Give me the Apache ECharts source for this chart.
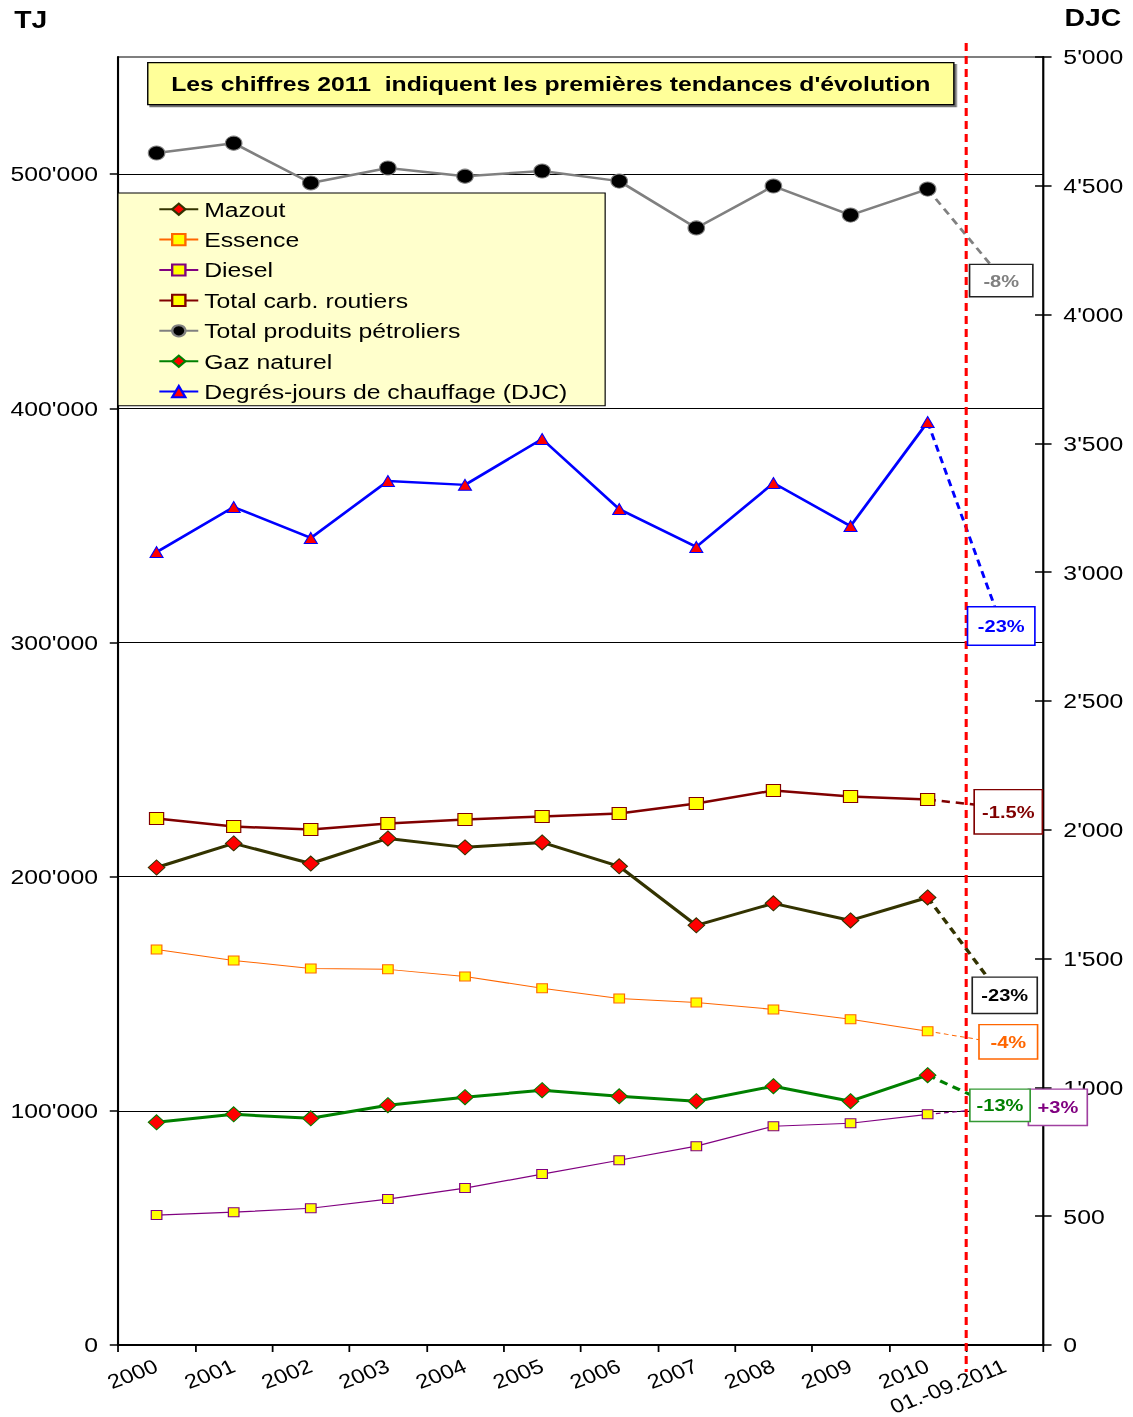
<!DOCTYPE html>
<html>
<head>
<meta charset="utf-8">
<title>Consommation d'énergie et degrés-jours</title>
<script src="https://cdn.jsdelivr.net/npm/echarts@6/dist/echarts.min.js"></script>
<style>
  html, body { margin: 0; padding: 0; background: #fff; overflow: hidden; }
  /* the drawing is laid out 960px wide and widened to the full page width */
  #chart { width: 960px; height: 1417px; transform: scaleX(1.1802); transform-origin: 0 0; }
</style>
</head>
<body>
<div id="chart"></div>
<script>
// ---- data -----------------------------------------------------------------
const years = ['2000', '2001', '2002', '2003', '2004', '2005', '2006', '2007', '2008', '2009', '2010', '01.-09.2011'];

// yearly values 2000-2010, TJ
const mazout   = [203900, 214200, 205600, 216300, 212500, 214600, 204400, 179200, 188600, 181300, 191100];
const essence  = [168900, 164200, 160800, 160400, 157400, 152300, 148000, 146300, 143300, 139100, 134000];
const diesel   = [55500, 56700, 58400, 62300, 67000, 73000, 78900, 84900, 93400, 94700, 98500];
const carbRout = [224800, 221400, 220100, 222700, 224400, 225700, 227000, 231200, 236800, 234200, 232900];
const totPetro = [509000, 513200, 496200, 502600, 499100, 501300, 497000, 477000, 494900, 482500, 493600];
const gaz      = [95100, 98500, 96800, 102400, 105800, 108800, 106200, 104100, 110500, 104100, 115200];
// heating degree-days
const djc      = [3078, 3253, 3133, 3354, 3339, 3517, 3245, 3098, 3346, 3179, 3583];

// first figures for 01.-09.2011 (trend) and the stated change
const trend2011 = {
  mazout:   { value: 147200, change: '-23%' },
  essence:  { value: 128600, change: '-4%' },
  diesel:   { value: 101500, change: '+3%' },
  carbRout: { value: 229400, change: '-1.5%' },
  totPetro: { value: 454100, change: '-8%' },
  gaz:      { value: 100200, change: '-13%' },
  djc:      { value: 2760,   change: '-23%' }
};

const tjTicks  = [0, 100000, 200000, 300000, 400000, 500000];

// ---- helpers --------------------------------------------------------------
const FONT = "'Liberation Sans', Arial, sans-serif";
const fmt = v => String(v).replace(/\B(?=(\d{3})+(?!\d))/g, "'");

function lineSeries(cfg) {
  return {
    name: cfg.name,
    type: 'line',
    yAxisIndex: cfg.yAxisIndex || 0,
    data: cfg.data,
    symbol: cfg.symbol,
    symbolSize: cfg.symbolSize,
    showSymbol: true,
    lineStyle: { color: cfg.color, width: cfg.width },
    itemStyle: { color: cfg.fill, borderColor: cfg.border, borderWidth: cfg.borderWidth || 1 },
    emphasis: { disabled: true },
    animation: false,
    z: 3
  };
}

// dashed continuation from 2010 to the 2011 trend value
function trendSeries(cfg) {
  const data = years.map(() => null);
  data[10] = cfg.data[10];
  data[11] = cfg.trend.value;
  return {
    name: cfg.name + ' – tendance',
    type: 'line',
    yAxisIndex: cfg.yAxisIndex || 0,
    data: data,
    showSymbol: false,
    symbol: 'none',
    lineStyle: { color: cfg.color, width: cfg.width, type: cfg.dash },
    emphasis: { disabled: true },
    silent: true,
    animation: false,
    z: 2
  };
}

const defs = [
  { key: 'mazout', name: 'Mazout', data: mazout, color: '#333300', width: 3, symbol: 'diamond', symbolSize: [14, 15], fill: '#FF0000', border: '#333300', dash: [7, 5],
    label: { textColor: '#000000', boxColor: '#222222', offset: [0, -5], padding: [9, 7] } },
  { key: 'essence', name: 'Essence', data: essence, color: '#FF6600', width: 1, symbol: 'rect', symbolSize: 9, fill: '#FFFF00', border: '#FF6600', dash: [4, 3],
    label: { textColor: '#FF6600', boxColor: '#FF6600', offset: [3, -2], padding: [8, 9] } },
  { key: 'diesel', name: 'Diesel', data: diesel, color: '#800080', width: 1.2, symbol: 'rect', symbolSize: 9, fill: '#FFFF00', border: '#800080', dash: [4, 3],
    label: { textColor: '#800080', boxColor: '#A040A0', offset: [45, 0], padding: [9, 7] } },
  { key: 'carbRout', name: 'Total carb. routiers', data: carbRout, color: '#800000', width: 2.5, symbol: 'rect', symbolSize: 12, fill: '#FFFF00', border: '#800000', dash: [7, 5],
    label: { textColor: '#800000', boxColor: '#800000', offset: [3, 4], padding: [13, 6] } },
  { key: 'totPetro', name: 'Total produits pétroliers', data: totPetro, color: '#808080', width: 2.5, symbol: 'circle', symbolSize: 14, fill: '#000000', border: '#808080', dash: [7, 5],
    label: { textColor: '#808080', boxColor: '#222222', offset: [-3, -1], padding: [7, 11] } },
  { key: 'gaz', name: 'Gaz naturel', data: gaz, color: '#008000', width: 3, symbol: 'diamond', symbolSize: [14, 15], fill: '#FF0000', border: '#008000', dash: [7, 5],
    label: { textColor: '#008000', boxColor: '#339933', offset: [-4, -5], padding: [7, 5] } },
  { key: 'djc', name: 'Degrés-jours de chauffage (DJC)', data: djc, color: '#0000FF', width: 2.5, symbol: 'triangle', symbolSize: 11, fill: '#FF0000', border: '#0000FF', dash: [7, 5], yAxisIndex: 1,
    label: { textColor: '#0000FF', boxColor: '#0000FF', offset: [-3, -8], padding: [10, 8] } }
];

const series = [];
defs.forEach(d => {
  series.push(trendSeries({ name: d.name, data: d.data, trend: trend2011[d.key], color: d.color, width: d.width, dash: d.dash, yAxisIndex: d.yAxisIndex }));
});
defs.forEach(d => {
  series.push(lineSeries({ name: d.name, data: d.data, color: d.color, width: d.width, symbol: d.symbol, symbolSize: d.symbolSize, fill: d.fill, border: d.border, yAxisIndex: d.yAxisIndex }));
});

const axisText = { color: '#000', fontFamily: FONT, fontSize: 21 };

const option = {
  backgroundColor: '#ffffff',
  animation: false,
  textStyle: { fontFamily: FONT },
  grid: { left: 100, right: 76, top: 57, bottom: 72, show: true, borderColor: '#000', borderWidth: 1, containLabel: false, outerBoundsMode: 'none' },
  legend: {
    data: defs.map(d => d.name),
    orient: 'vertical',
    left: 100,
    top: 193,
    padding: [5, 32, 3, 34],
    itemGap: 8,
    itemWidth: 33,
    itemHeight: 14,
    backgroundColor: '#FFFFCC',
    borderColor: '#000',
    borderWidth: 1,
    selectedMode: false,
    textStyle: { color: '#000', fontFamily: FONT, fontSize: 21, lineHeight: 22.4 }
  },
  xAxis: {
    type: 'category',
    data: years,
    boundaryGap: true,
    axisLine: { lineStyle: { color: '#000', width: 2 } },
    axisTick: { show: true, length: 7, lineStyle: { color: '#000', width: 1.5 } },
    axisLabel: { interval: 0, rotate: 24, margin: 20, fontSize: 20, color: '#000', fontFamily: FONT },
    splitLine: { show: false }
  },
  yAxis: [
    {
      type: 'value', position: 'left', min: 0, max: 550000, interval: 100000,
      axisLine: { show: true, lineStyle: { color: '#000', width: 1.8 } },
      axisTick: { show: true, length: 7, customValues: tjTicks, lineStyle: { color: '#000', width: 1.5 } },
      axisLabel: Object.assign({ margin: 17, customValues: tjTicks, formatter: v => fmt(v) }, axisText),
      splitLine: { show: true, lineStyle: { color: '#000', width: 1 } }
    },
    {
      type: 'value', position: 'right', min: 0, max: 5000, interval: 500,
      axisLine: { show: true, lineStyle: { color: '#000', width: 1.8 } },
      axisTick: { show: true, length: 7, lineStyle: { color: '#000', width: 1.5 } },
      axisLabel: Object.assign({ margin: 17, formatter: v => fmt(v) }, axisText),
      splitLine: { show: false }
    },
    {
      // inner half of the crossing ticks on the DJC axis
      type: 'value', position: 'right', min: 0, max: 5000, interval: 500,
      axisLine: { show: false },
      axisTick: { show: true, inside: true, length: 7, lineStyle: { color: '#000', width: 1.5 } },
      axisLabel: { show: false },
      splitLine: { show: false }
    }
  ],
  graphic: [
    { id: 'unitLeft', type: 'text', left: 12, top: 8, style: { text: 'TJ', font: "bold 24px " + FONT, fill: '#000' } },
    { id: 'unitRight', type: 'text', left: 902, top: 6, style: { text: 'DJC', font: "bold 24px " + FONT, fill: '#000' } },
    {
      id: 'note', type: 'group', left: 124.6, top: 62, z: 30,
      children: [
        { type: 'rect', shape: { x: 0, y: 0, width: 683, height: 42 },
          style: { fill: '#FFFF99', stroke: '#000', lineWidth: 1.2, shadowColor: 'rgba(0,0,0,0.55)', shadowOffsetX: 2, shadowOffsetY: 2, shadowBlur: 1 } },
        { type: 'text', x: 341.5, y: 21,
          style: { text: "Les chiffres 2011  indiquent les premières tendances d'évolution", font: "bold 21px " + FONT, fill: '#000', textAlign: 'center', textVerticalAlign: 'middle' } }
      ]
    }
  ],
  series: series
};

const chart = echarts.init(document.getElementById('chart'), null, { renderer: 'svg' });
chart.setOption(option);

// separator between the last full year and the partial year 2011
const xa = chart.convertToPixel({ xAxisIndex: 0 }, years[10]);
const xb = chart.convertToPixel({ xAxisIndex: 0 }, years[11]);
const xSep = (xa + xb) / 2;

const extra = [
  { id: 'separator', type: 'line', z: 50, silent: true,
    shape: { x1: xSep, y1: 43, x2: xSep, y2: 1372 },
    style: { stroke: '#FF0000', lineWidth: 2.6, lineDash: [8, 5] } }
];

// boxed percentage changes, placed on each 2011 trend value
defs.forEach(d => {
  const t = trend2011[d.key];
  const p = chart.convertToPixel({ xAxisIndex: 0, yAxisIndex: d.yAxisIndex || 0 }, [11, t.value]);
  extra.push({
    id: 'change-' + d.key, type: 'text', z: 100, silent: true,
    x: p[0] + d.label.offset[0], y: p[1] + d.label.offset[1],
    style: {
      text: t.change,
      font: 'bold 17px ' + FONT,
      fill: d.label.textColor,
      align: 'center',
      verticalAlign: 'middle',
      backgroundColor: '#ffffff',
      borderColor: d.label.boxColor,
      borderWidth: 1.4,
      padding: d.label.padding
    }
  });
});

chart.setOption({ graphic: extra });
</script>
</body>
</html>
